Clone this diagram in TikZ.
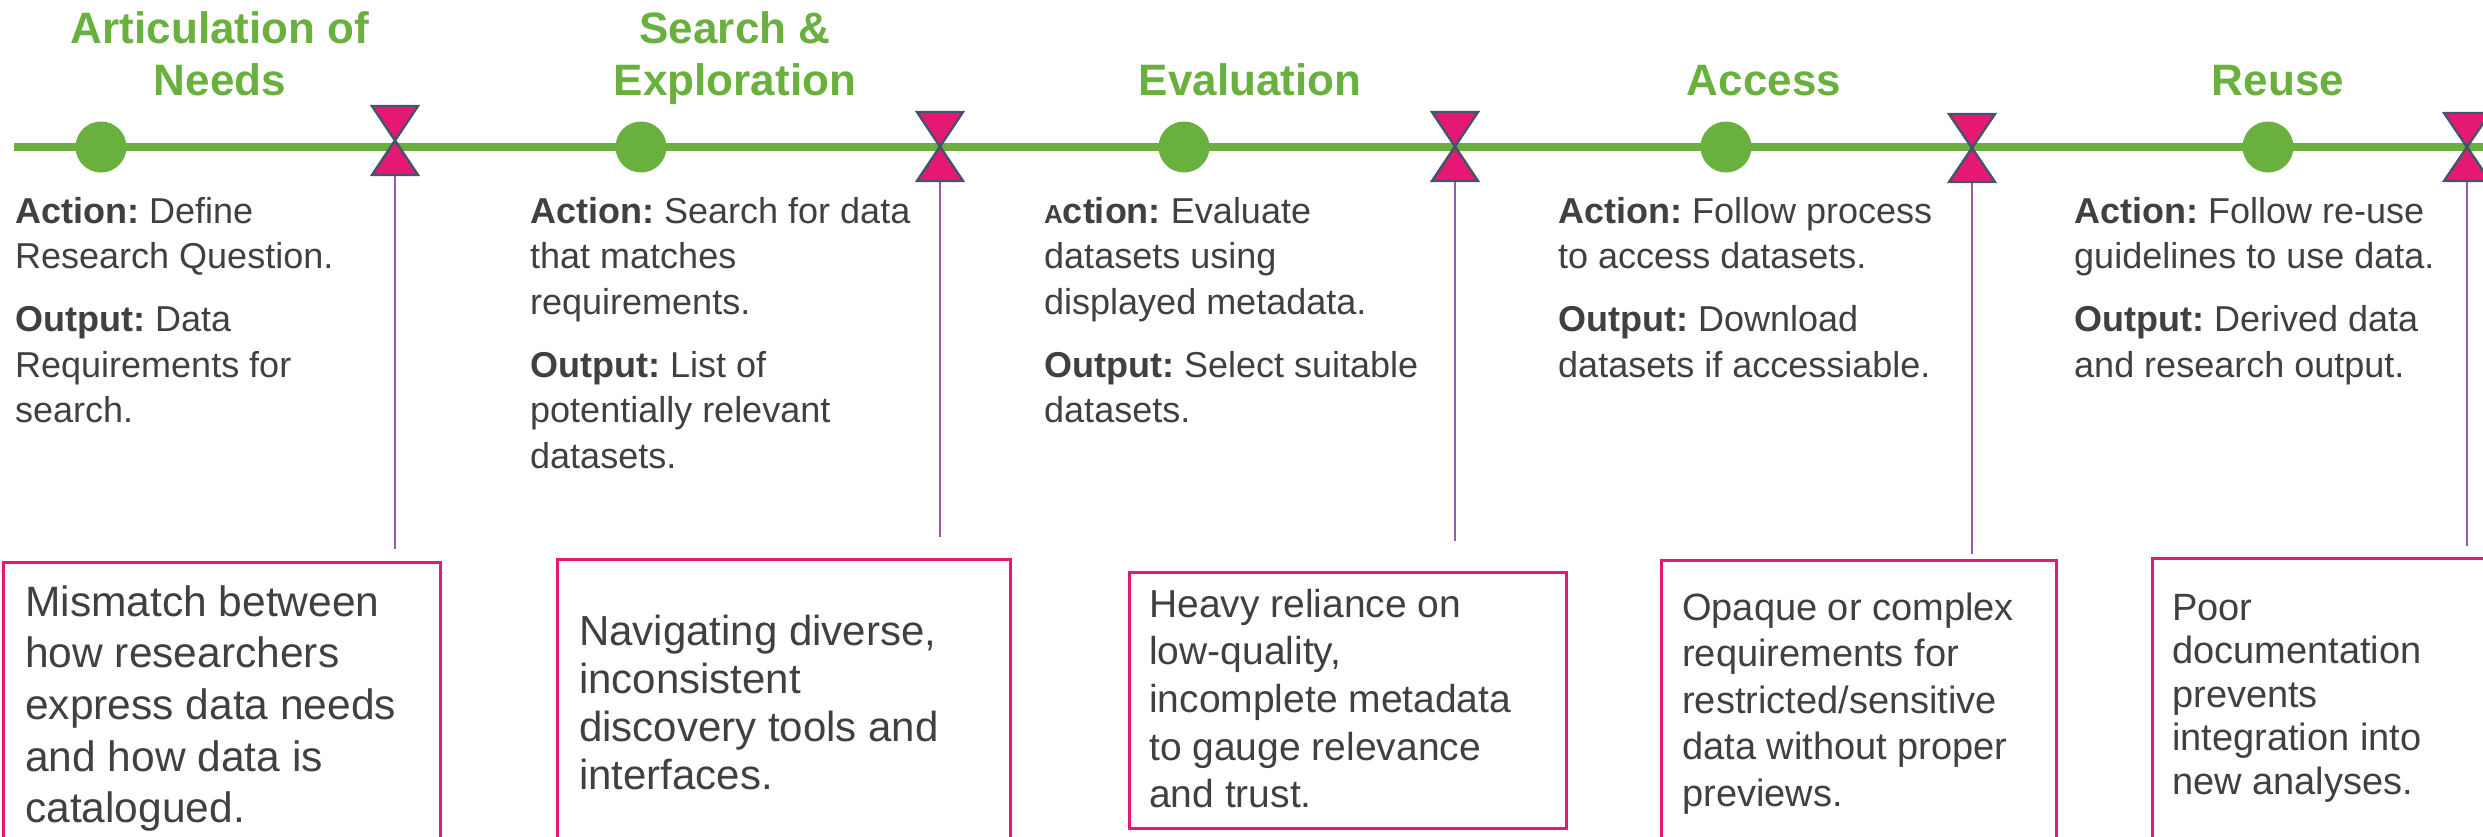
\documentclass[tikz,border=0pt]{standalone}
\usepackage{fontspec}
\setmainfont{Liberation Sans}
\frenchspacing

\definecolor{stagegreen}{RGB}{106,176,63}
\definecolor{gapmagenta}{RGB}{229,25,116}
\definecolor{barrieredge}{RGB}{68,84,106}
\definecolor{linkpurple}{RGB}{155,89,170}
\definecolor{bodygray}{RGB}{64,64,64}

% first-line-baseline paragraph block
\newcommand\firstbase[1]{\vtop{\hsize=520pt\raggedright\parindent=0pt\parskip=17.5pt #1\par}}
% last-line-baseline centred title block
\newcommand\titleblock[1]{\vbox{\hsize=560pt\centering #1\par}}

% hourglass marker coordinates: name, x, top, bottom
\newcommand\hgcoords[4]{%
  \coordinate (#1) at (#2,{(#3+#4)/2});
  \coordinate (#1t) at (#2,#3);
  \coordinate (#1b) at (#2,#4);
}
% hourglass marker shape around a named marker (half width 23)
\newcommand\hgdraw[1]{%
  \draw[barrier] ([xshift=-23pt]#1t) -- ([xshift=23pt]#1t) --
    ([xshift=-23pt]#1b) -- ([xshift=23pt]#1b) -- cycle;
}

\begin{document}
\begin{tikzpicture}[x=1pt,y=-1pt,
  timeline/.style={line width=8pt,draw=stagegreen},
  stagedot/.style={circle,fill=stagegreen,minimum size=51pt,inner sep=0pt},
  barrier/.style={fill=gapmagenta,draw=barrieredge,line width=2.4pt,line join=miter},
  link/.style={draw=linkpurple,line width=2.2pt},
  gapbox/.style={draw=gapmagenta,line width=3pt,fill=none,anchor=north west,inner sep=0pt},
  stagetitle/.style={anchor=base,inner sep=0pt,text=stagegreen,
    font=\fontsize{44}{52}\selectfont\bfseries},
  steptext/.style={anchor=base west,inner sep=0pt,text=bodygray,
    font=\fontsize{36}{45.5}\selectfont},
  gaptext/.style={anchor=base west,inner sep=0pt,text=bodygray}
]
\useasboundingbox (0,0) rectangle (2483,836);
\clip (0,0) rectangle (2483,836);

% timeline
\coordinate (tstart) at (14,147);
\coordinate (tend) at (2490,147);
\draw[timeline] (tstart) -- (tend);

% stage dots
\node[stagedot] (s1) at (101,147) {};
\node[stagedot] (s2) at (641,147) {};
\node[stagedot] (s3) at (1184,147) {};
\node[stagedot] (s4) at (1726,147) {};
\node[stagedot] (s5) at (2268,147) {};

% stage titles
\node[stagetitle] (t1) at (220,95) {\titleblock{Articulation of\\Needs}};
\node[stagetitle] (t2) at (735,95) {\titleblock{Search \&\\Exploration}};
\node[stagetitle] (t3) at (1250,95) {\titleblock{Evaluation}};
\node[stagetitle] (t4) at (1764,95) {\titleblock{Access}};
\node[stagetitle] (t5) at (2278,95) {\titleblock{Reuse}};

% barrier markers: positions, links down towards the boxes, then the markers
\hgcoords{h1}{395}{106}{175}
\hgcoords{h2}{940}{112}{181}
\hgcoords{h3}{1455}{112}{181}
\hgcoords{h4}{1972}{114}{182}
\hgcoords{h5}{2467}{113}{181}
\coordinate (e1) at (395,549);
\coordinate (e2) at (940,537);
\coordinate (e3) at (1455,541);
\coordinate (e4) at (1972,554);
\coordinate (e5) at (2467,546);
\draw[link] (h1b) -- (e1);
\draw[link] (h2b) -- (e2);
\draw[link] (h3b) -- (e3);
\draw[link] (h4b) -- (e4);
\draw[link] (h5b) -- (e5);
\hgdraw{h1}
\hgdraw{h2}
\hgdraw{h3}
\hgdraw{h4}
\hgdraw{h5}

% action / output texts
\node[steptext] (a1) at (15,223) {\firstbase{\textbf{Action:} Define\\Research Question.\par
  \textbf{Output:} Data\\Requirements for\\search.}};
\node[steptext] (a2) at (530,223) {\firstbase{\textbf{Action:} Search for data\\that matches\\requirements.\par
  \textbf{Output:} List of\\potentially relevant\\datasets.}};
\node[steptext] (a3) at (1044,223) {\firstbase{\textbf{{\fontsize{26}{26}\selectfont A}ction:} Evaluate\\datasets using\\displayed metadata.\par
  \textbf{Output:} Select suitable\\datasets.}};
\node[steptext] (a4) at (1558,223) {\firstbase{\textbf{Action:} Follow process\\to access datasets.\par
  \textbf{Output:} Download\\datasets if accessiable.}};
\node[steptext] (a5) at (2074,223) {\firstbase{\textbf{Action:} Follow re-use\\guidelines to use data.\par
  \textbf{Output:} Derived data\\and research output.}};

% barrier boxes
\node[gapbox,minimum width=437pt,minimum height=300pt] (b1) at (2,561) {};
\node[gapbox,minimum width=453pt,minimum height=300pt] (b2) at (556,558) {};
\node[gapbox,minimum width=437pt,minimum height=256pt] (b3) at (1128,571) {};
\node[gapbox,minimum width=395pt,minimum height=300pt] (b4) at (1660,559) {};
\node[gapbox,minimum width=360pt,minimum height=300pt] (b5) at (2151,557) {};

% barrier texts
\node[gaptext,font=\fontsize{42.5}{51.7}\selectfont] (g1) at (25,616)
  {\firstbase{Mismatch between\\how researchers\\express data needs\\and how data is\\catalogued.}};
\node[gaptext,font=\fontsize{42}{48}\selectfont] (g2) at (579,645)
  {\firstbase{Navigating diverse,\\inconsistent\\discovery tools and\\interfaces.}};
\node[gaptext,font=\fontsize{39}{47.7}\selectfont] (g3) at (1149,617)
  {\firstbase{Heavy reliance on\\low-quality,\\incomplete metadata\\to gauge relevance\\and trust.}};
\node[gaptext,font=\fontsize{38}{46.5}\selectfont] (g4) at (1682,620)
  {\firstbase{Opaque or complex\\requirements for\\restricted/sensitive\\data without proper\\previews.}};
\node[gaptext,font=\fontsize{38}{43.5}\selectfont] (g5) at (2172,620)
  {\firstbase{Poor\\documentation\\prevents\\integration into\\new analyses.}};
\end{tikzpicture}
\end{document}
